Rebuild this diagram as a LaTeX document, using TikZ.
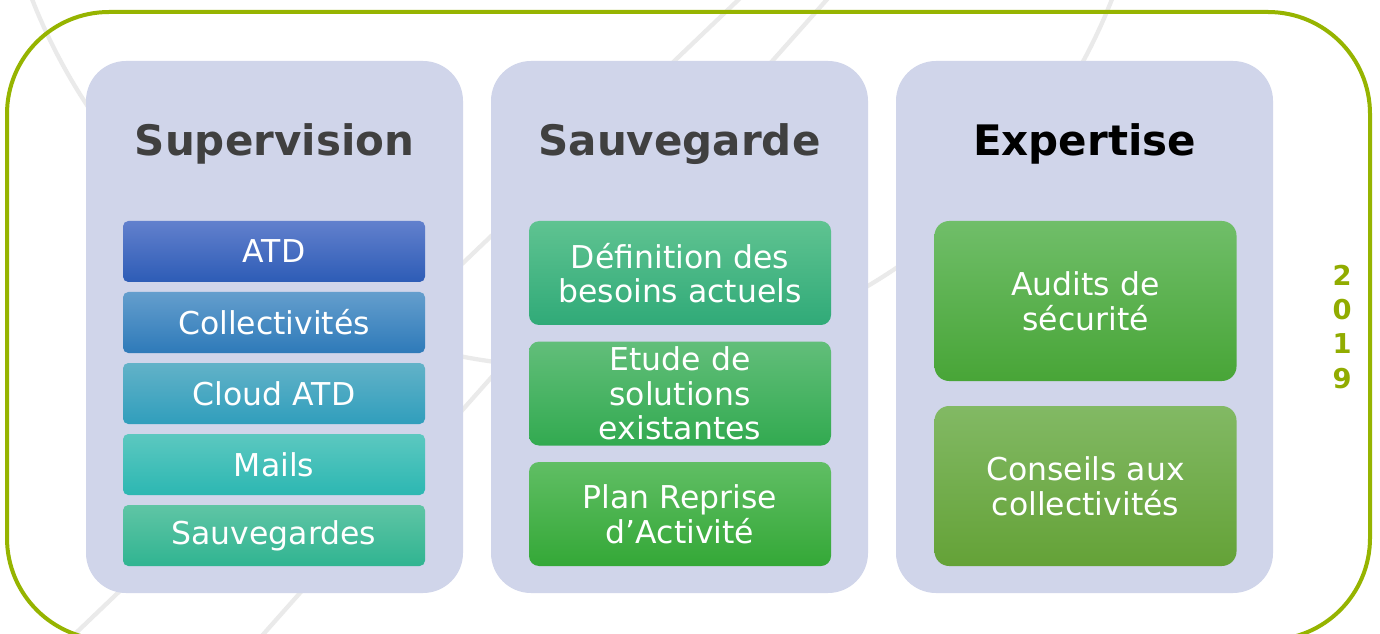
\documentclass[tikz,border=0pt]{standalone}
\usepackage{fontspec}
\setmainfont{DejaVu Sans}
\definecolor{framegreen}{RGB}{150,180,0}
\definecolor{yeargreen}{RGB}{145,172,0}
\definecolor{colbg}{RGB}{208,213,234}
\definecolor{bgl}{RGB}{234,234,234}
\definecolor{titlegray}{RGB}{64,64,64}
\definecolor{aT}{RGB}{98,128,205}\definecolor{aB}{RGB}{45,92,182}
\definecolor{bT}{RGB}{100,158,205}\definecolor{bB}{RGB}{46,122,185}
\definecolor{cT}{RGB}{98,178,200}\definecolor{cB}{RGB}{48,158,188}
\definecolor{dT}{RGB}{92,200,192}\definecolor{dB}{RGB}{44,183,178}
\definecolor{eT}{RGB}{95,197,165}\definecolor{eB}{RGB}{48,180,145}
\definecolor{fT}{RGB}{95,195,145}\definecolor{fB}{RGB}{48,170,120}
\definecolor{gT}{RGB}{98,190,122}\definecolor{gB}{RGB}{50,170,80}
\definecolor{hT}{RGB}{96,190,100}\definecolor{hB}{RGB}{52,168,55}
\definecolor{iT}{RGB}{112,190,105}\definecolor{iB}{RGB}{72,165,55}
\definecolor{jT}{RGB}{130,185,100}\definecolor{jB}{RGB}{100,162,55}
\begin{document}
\begin{tikzpicture}[x=0.75pt,y=-0.75pt,
  bgline/.style={draw=bgl,line width=3.2pt},
  column/.style={fill=colbg,rounded corners=30pt,minimum width=282.75pt,minimum height=399pt,inner sep=0pt},
  coltitle/.style={anchor=base,font=\fontsize{31.5}{36}\selectfont\bfseries,text=titlegray},
  itembox/.style={rounded corners=#1,minimum width=226.5pt,inner sep=0pt,text=white,align=center,
     font=\fontsize{23.6}{26}\selectfont},
  year/.style={font=\fontsize{20.5}{21}\selectfont\bfseries,text=yeargreen,inner sep=0pt}]
\useasboundingbox (0,0) rectangle (1380,634);
\clip (0,0) rectangle (1380,634);
\fill[white] (0,0) rectangle (1380,634);
% background arcs
\draw[bgline] (780,-40) -- (33,674);
\draw[bgline] (862,-40) -- (228,674);
\draw[bgline] (572,-213) circle[radius=580];
% frame
\draw[draw=framegreen,line width=3pt,rounded corners=76.5pt] (7,12) rectangle (1370,640);
% columns
\node[column] (col1) at (274.5,327) {};
\node[column] (col2) at (679.5,327) {};
\node[column] (col3) at (1084.5,327) {};
\node[coltitle] (t1) at (274.5,156) {Supervision};
\node[coltitle] (t2) at (679.5,156) {Sauvegarde};
\node[coltitle,text=black] (t3) at (1084.5,156) {Expertise};
% column 1
\node[itembox=4pt,minimum height=45.75pt,top color=aT,bottom color=aB] (s1) at (274,251.5) {ATD};
\node[itembox=4pt,minimum height=45.75pt,top color=bT,bottom color=bB] (s2) at (274,322.5) {Collectivités};
\node[itembox=4pt,minimum height=45.75pt,top color=cT,bottom color=cB] (s3) at (274,393.5) {Cloud ATD};
\node[itembox=4pt,minimum height=45.75pt,top color=dT,bottom color=dB] (s4) at (274,464.5) {Mails};
\node[itembox=4pt,minimum height=45.75pt,top color=eT,bottom color=eB] (s5) at (274,535.5) {Sauvegardes};
% column 2
\node[itembox=7.5pt,minimum height=78pt,top color=fT,bottom color=fB] (b1) at (680,273) {Définition des\\besoins actuels};
\node[itembox=7.5pt,minimum height=78pt,top color=gT,bottom color=gB] (b2) at (680,393.5) {Etude de\\solutions\\existantes};
\node[itembox=7.5pt,minimum height=78pt,top color=hT,bottom color=hB] (b3) at (680,514) {Plan Reprise\\d’Activité};
% column 3
\node[itembox=11pt,minimum height=120pt,top color=iT,bottom color=iB] (e1) at (1085.5,301) {Audits de\\sécurité};
\node[itembox=11pt,minimum height=120pt,top color=jT,bottom color=jB] (e2) at (1085.5,486) {Conseils aux\\collectivités};
% year
\node[year] (y1) at (1342,275) {2};
\node[year] (y2) at (1342,309.5) {0};
\node[year] (y3) at (1342,344) {1};
\node[year] (y4) at (1342,378.5) {9};
\end{tikzpicture}
\end{document}
